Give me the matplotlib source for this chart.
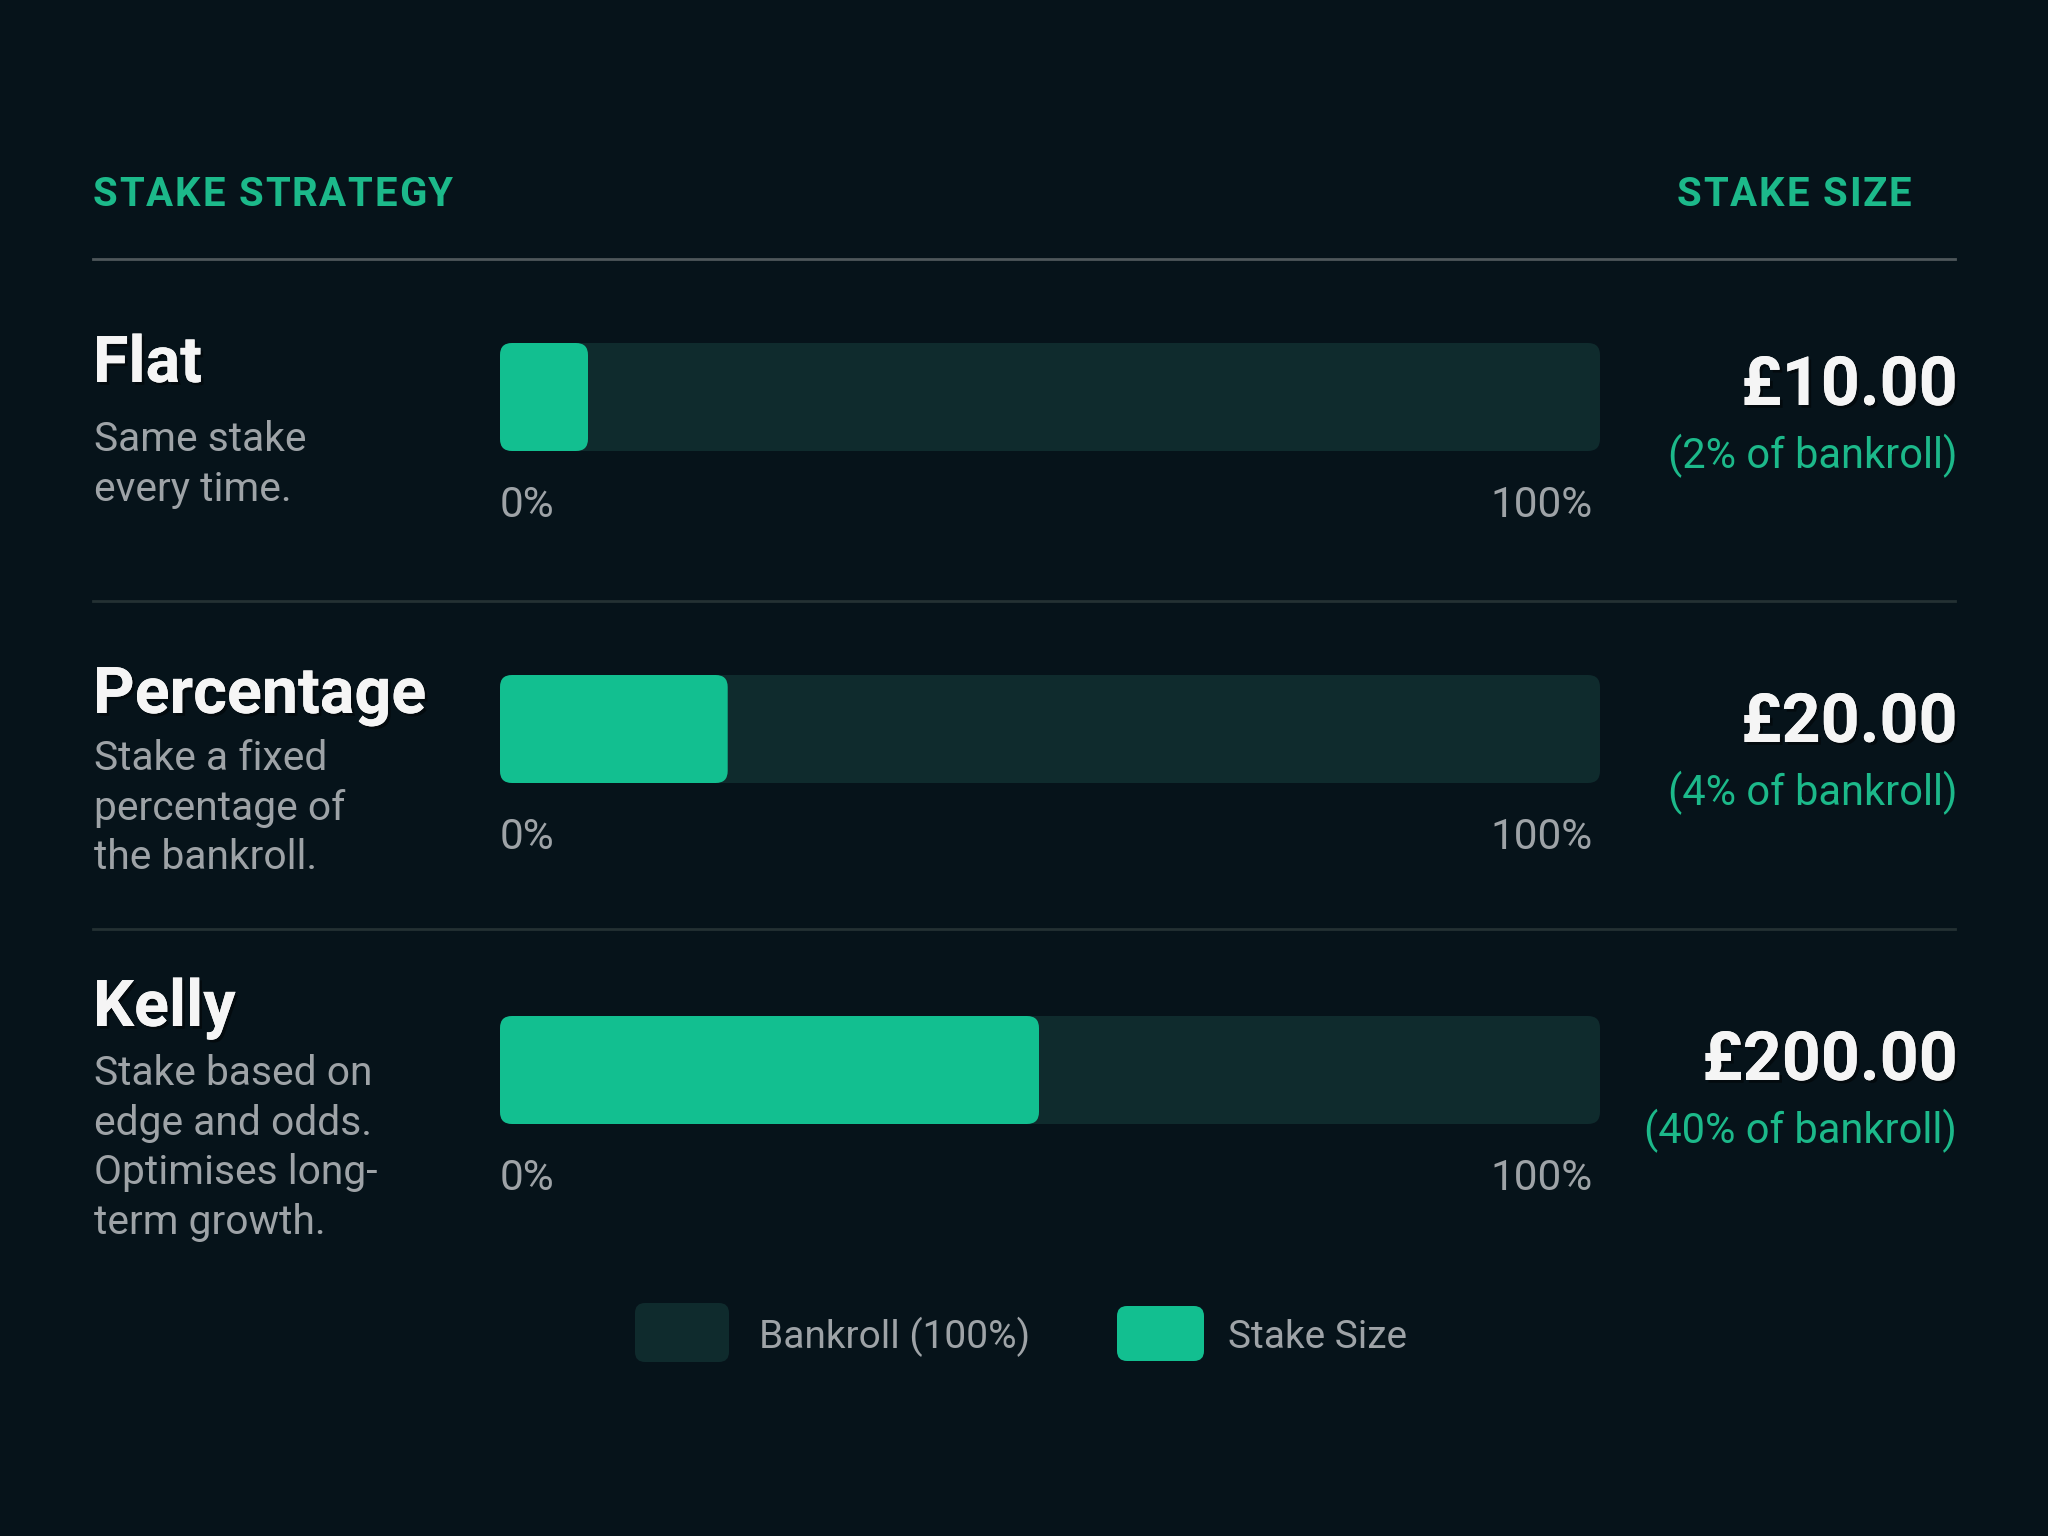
import matplotlib
matplotlib.use("Agg")
import matplotlib.pyplot as plt
import matplotlib.patheffects as pe
from matplotlib.patches import FancyBboxPatch

# data
strategies = ["Flat", "Percentage", "Kelly"]
descriptions = [
    ["Same stake", "every time."],
    ["Stake a fixed", "percentage of", "the bankroll."],
    ["Stake based on", "edge and odds.", "Optimises long-", "term growth."],
]
stake_amounts = ["£10.00", "£20.00", "£200.00"]
stake_pct = [2, 4, 40]
# filled share of the bar as drawn in the picture
fill_shown = [0.08, 0.207, 0.49]
legend_labels = ["Bankroll (100%)", "Stake Size"]
headers = ["STAKE STRATEGY", "STAKE SIZE"]

# colours
bg = "#06131a"
track = "#0f2b2d"
green = "#12bf90"
green_txt = "#1cb98a"
grey = "#9ea3a7"
white = "#f5f5f5"

plt.rcParams["font.family"] = ["Roboto", "DejaVu Sans"]

fig = plt.figure(figsize=(20.48, 15.36), dpi=100, facecolor=bg)
ax = fig.add_axes([0, 0, 1, 1])
ax.set_xlim(0, 2048)
ax.set_ylim(1536, 0)
ax.axis("off")
renderer = fig.canvas.get_renderer()

shadow = [pe.withSimplePatchShadow(offset=(2, -2), shadow_rgbFace="black", alpha=0.45), pe.Normal()]


def width_of(s, **kw):
    t = ax.text(0, 0, s, **kw)
    w = t.get_window_extent(renderer).width
    t.remove()
    return w


def spaced_text(x, y, s, spacing, ha="left", **kw):
    # text with extra letter spacing, drawn char by char
    pos = []
    for k, ch in enumerate(s):
        if ch == " ":
            continue
        pos.append((width_of(s[:k + 1], **kw) - width_of(ch, **kw) + k * spacing, ch))
    total = width_of(s, **kw) + (len(s) - 1) * spacing
    if ha == "right":
        x = x - total
    for p, ch in pos:
        ax.text(x + p, y, ch, va="baseline", **kw)


# header
hkw = dict(color=green_txt, fontsize=29, fontweight="bold")
spaced_text(93, 206, headers[0], 1.8, **hkw)
spaced_text(1911, 206, headers[1], 1.8, ha="right", **hkw)
ax.plot([93, 1955], [259, 259], color="#4e575b", lw=2)

bar_x0, bar_w, bar_h = 500, 1100, 108
bar_top = [343, 675, 1016]
name_base = [382, 713, 1026]
desc_base = [451, 770, 1085]
amount_base = [405, 742, 1080]
sep_y = [601, 929]

for i, name in enumerate(strategies):
    ax.text(93, name_base[i], name, color=white, fontsize=46.5, fontweight="bold", va="baseline",
            path_effects=shadow)
    for j, line in enumerate(descriptions[i]):
        ax.text(94, desc_base[i] + j * 49.7, line, color=grey, fontsize=29.3, va="baseline")
    t = bar_top[i]
    ax.add_patch(FancyBboxPatch((bar_x0, t), bar_w, bar_h,
                                boxstyle="round,pad=0,rounding_size=12", fc=track, ec="none"))
    ax.add_patch(FancyBboxPatch((bar_x0, t), bar_w * fill_shown[i], bar_h,
                                boxstyle="round,pad=0,rounding_size=12", fc=green, ec="none"))
    ax.text(bar_x0, t + bar_h + 66, "0%", color=grey, fontsize=30.5, va="baseline")
    ax.text(bar_x0 + bar_w - 7, t + bar_h + 66, "100%", color=grey, fontsize=30.5, va="baseline", ha="right")
    ax.text(1957, amount_base[i], stake_amounts[i], color=white, fontsize=49, fontweight="bold",
            va="baseline", ha="right", path_effects=shadow)
    ax.text(1957, amount_base[i] + 63, f"({stake_pct[i]}% of bankroll)", color=green_txt, fontsize=30,
            va="baseline", ha="right")

for y in sep_y:
    ax.plot([93, 1955], [y, y], color="#243133", lw=2)

# legend
ax.add_patch(FancyBboxPatch((635, 1303), 94, 59, boxstyle="round,pad=0,rounding_size=10", fc=track, ec="none"))
ax.text(759, 1348, legend_labels[0], color=grey, fontsize=28, va="baseline")
ax.add_patch(FancyBboxPatch((1117, 1306), 87, 55, boxstyle="round,pad=0,rounding_size=10", fc=green, ec="none"))
ax.text(1228, 1348, legend_labels[1], color=grey, fontsize=28, va="baseline")

fig.savefig("out.png", dpi=100, facecolor=bg)
